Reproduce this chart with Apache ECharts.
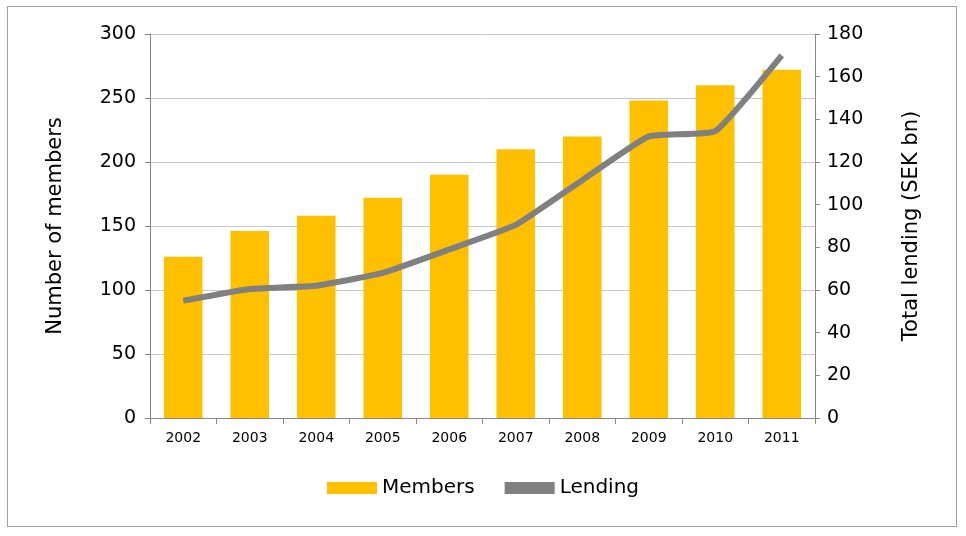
<!DOCTYPE html>
<html><head><meta charset="utf-8">
<script src="https://cdn.jsdelivr.net/npm/echarts@6/dist/echarts.min.js"></script>
<style>html,body{margin:0;padding:0;background:#fff}
#frame{position:absolute;left:7px;top:6px;width:950px;height:521px;border:1px solid #a0a0a0;box-sizing:border-box}
#c{position:absolute;left:0;top:0;width:966px;height:536px}</style>
</head><body><div id="frame"></div><div id="c"></div>
<script>
const years = ['2002','2003','2004','2005','2006','2007','2008','2009','2010','2011'];
const members = [126,146,158,172,190,210,220,248,260,272];
const lending = [55,60.5,62,68,79,90.5,111.5,132,134.5,170];
const font = 'DejaVu Sans';
const chart = echarts.init(document.getElementById('c'));
chart.setOption({
  animation:false,
  textStyle:{fontFamily:font},
  grid:{left:150,right:151,top:34,bottom:118},
  legend:{bottom:33,left:'center',itemGap:30,textStyle:{fontSize:20,color:'#000',fontFamily:font},
    data:[{name:'Members',icon:'rect'},{name:'Lending',icon:'rect'}],itemWidth:50,itemHeight:12},
  xAxis:{type:'category',data:years,axisTick:{show:true,length:6,lineStyle:{color:'#888'}},
    axisLine:{lineStyle:{color:'#888'}},axisLabel:{fontSize:14,color:'#000',margin:13}},
  yAxis:[
    {type:'value',min:0,max:300,interval:50,name:'Number of members',nameLocation:'middle',nameGap:84,
     nameTextStyle:{fontSize:21,color:'#000'},axisLine:{show:true,lineStyle:{color:'#888'}},
     axisTick:{show:true,lineStyle:{color:'#888'}},axisLabel:{fontSize:19,color:'#000',margin:14},
     splitLine:{lineStyle:{color:'#c8c8c8'}}},
    {type:'value',min:0,max:180,interval:20,name:'Total lending (SEK bn)',nameLocation:'middle',nameGap:86,
     nameRotate:90,nameTextStyle:{fontSize:21,color:'#000'},axisLine:{show:true,lineStyle:{color:'#888'}},
     axisTick:{show:true,lineStyle:{color:'#888'}},axisLabel:{fontSize:19,color:'#000',margin:12},
     splitLine:{show:false}}
  ],
  series:[
    {name:'Members',type:'bar',data:members,barWidth:'58%',itemStyle:{color:'#FFC000'}},
    {name:'Lending',type:'line',yAxisIndex:1,data:lending,smooth:0.12,symbol:'none',
     lineStyle:{color:'#808080',width:6},itemStyle:{color:'#808080'}}
  ]
});
</script></body></html>
